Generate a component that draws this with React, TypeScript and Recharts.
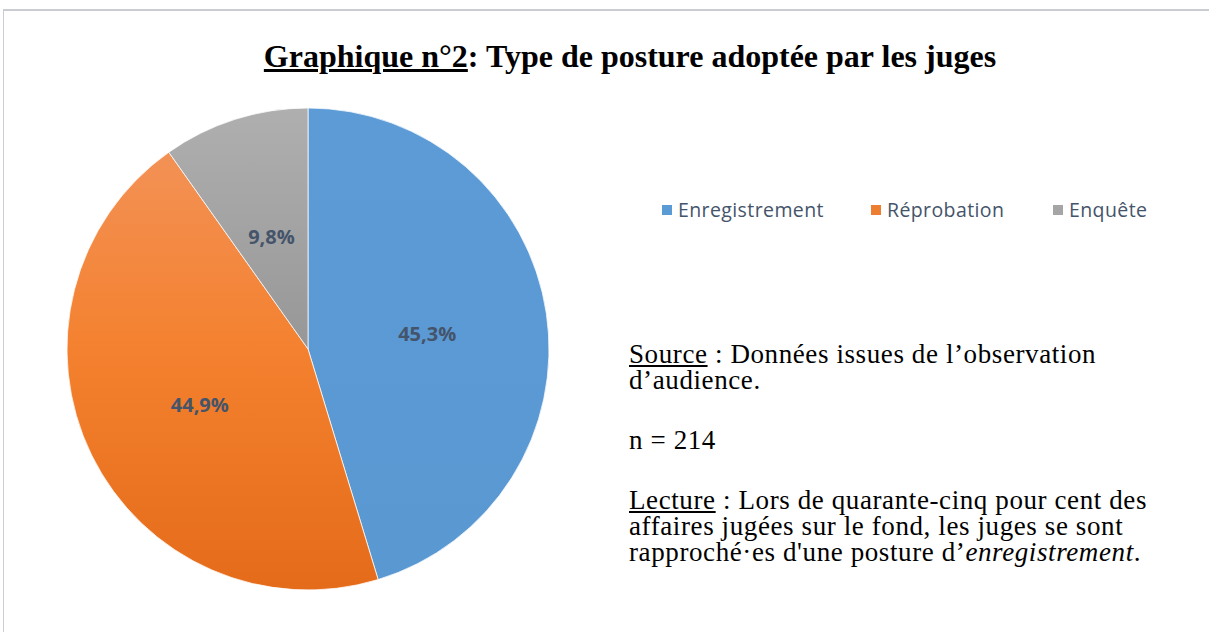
import { Cell, Legend, Pie, PieChart } from 'recharts'

const CATEGORIES = ['Enregistrement', 'Réprobation', 'Enquête']
const SHARES = [45.3, 44.9, 9.8]
const LABELS = ['45,3%', '44,9%', '9,8%']
const COLOURS = ['#5B9BD5', '#ED7D31', '#A5A5A5']
const FILLS = ['url(#gBlue)', 'url(#gOrange)', 'url(#gGrey)']
const LEGEND_X = [662, 871, 1053]

const data = CATEGORIES.map((name, i) => ({ name, value: SHARES[i], label: LABELS[i] }))

const RADIAN = Math.PI / 180
const CX = 308
const CY = 349
const R = 241

const renderLabel = (props: any) => {
  const { cx, cy, midAngle, outerRadius, index } = props
  const r = outerRadius * 0.5
  const x = cx + r * Math.cos(-midAngle * RADIAN)
  const y = cy + 2 + r * Math.sin(-midAngle * RADIAN)
  return (
    <text
      x={x}
      y={y}
      fill="#44546A"
      textAnchor="middle"
      dominantBaseline="central"
      style={{ fontFamily: '"Open Sans", sans-serif', fontWeight: 700, fontSize: 20 }}
    >
      {data[index].label}
    </text>
  )
}

const renderLegend = () => (
  <div
    style={{
      position: 'relative',
      height: 26,
      fontFamily: '"Open Sans", sans-serif',
      fontSize: 19.5,
      letterSpacing: 0.4,
      color: '#44546A',
    }}
  >
    {data.map((d, i) => (
      <div
        key={d.name}
        style={{ position: 'absolute', left: LEGEND_X[i] - 662, top: 0, display: 'flex', alignItems: 'center', whiteSpace: 'nowrap' }}
      >
        <span style={{ width: 10, height: 10, background: COLOURS[i], marginRight: 6, display: 'inline-block' }} />
        <span>{d.name}</span>
      </div>
    ))}
  </div>
)

const textStyle = {
  fontFamily: '"Liberation Serif", "Times New Roman", serif',
  fontSize: 27,
  letterSpacing: 0.6,
  lineHeight: '26px',
  color: '#000',
  margin: 0,
}

export default function App() {
  return (
    <div style={{ position: 'absolute', left: 0, top: 0, width: 1209, height: 632, background: '#fff', overflow: 'hidden' }}>
      <div
        style={{
          position: 'absolute',
          left: 3,
          top: 9,
          right: -2,
          bottom: -2,
          borderTop: '2px solid #c9ccd1',
          borderLeft: '1px solid #c9ccd1',
        }}
      />
      <div
        style={{
          position: 'absolute',
          left: 0,
          width: 1260,
          top: 38,
          textAlign: 'center',
          fontFamily: '"Liberation Serif", "Times New Roman", serif',
          fontWeight: 700,
          fontSize: 32,
          lineHeight: '36px',
        }}
      >
        <span style={{ textDecoration: 'underline' }}>Graphique n°2</span>: Type de posture adoptée par les juges
      </div>
      <div style={{ position: 'absolute', left: 0, top: 0 }}>
        <PieChart width={1209} height={632} margin={{ top: 0, right: 0, bottom: 0, left: 0 }}>
          <defs>
            <linearGradient id="gBlue" gradientUnits="userSpaceOnUse" x1="0" y1={CY - R} x2="0" y2={CY + R}>
              <stop offset="0" stopColor="#5C9BD6" />
              <stop offset="1" stopColor="#5A98D2" />
            </linearGradient>
            <linearGradient id="gOrange" gradientUnits="userSpaceOnUse" x1="0" y1={CY - R} x2="0" y2={CY + R}>
              <stop offset="0" stopColor="#F2955E" />
              <stop offset="0.5" stopColor="#F4812F" />
              <stop offset="1" stopColor="#E46B19" />
            </linearGradient>
            <linearGradient id="gGrey" gradientUnits="userSpaceOnUse" x1="0" y1={CY - R} x2="0" y2={CY}>
              <stop offset="0" stopColor="#AFAFAF" />
              <stop offset="1" stopColor="#979797" />
            </linearGradient>
          </defs>
          <Pie
            data={data}
            dataKey="value"
            nameKey="name"
            cx={CX}
            cy={CY}
            outerRadius={R}
            startAngle={90}
            endAngle={-270}
            stroke="#ffffff"
            strokeWidth={0.75}
            label={renderLabel}
            labelLine={false}
            isAnimationActive={false}
          >
            {data.map((d, i) => (
              <Cell key={d.name} fill={FILLS[i]} />
            ))}
          </Pie>
          <Legend content={renderLegend} wrapperStyle={{ position: 'absolute', left: 662, top: 196, width: 540 }} />
        </PieChart>
      </div>
      <div style={{ position: 'absolute', left: 629, top: 341, width: 580 }}>
        <p style={textStyle}>
          <span style={{ textDecoration: 'underline' }}>Source</span> : Données issues de l’observation
          <br />
          d’audience.
        </p>
        <p style={{ ...textStyle, marginTop: 34 }}>n = 214</p>
        <p style={{ ...textStyle, marginTop: 34 }}>
          <span style={{ textDecoration: 'underline' }}>Lecture</span> : Lors de quarante-cinq pour cent des
          <br />
          affaires jugées sur le fond, les juges se sont
          <br />
          rapproché·es d'une posture d’<i>enregistrement</i>.
        </p>
      </div>
    </div>
  )
}
